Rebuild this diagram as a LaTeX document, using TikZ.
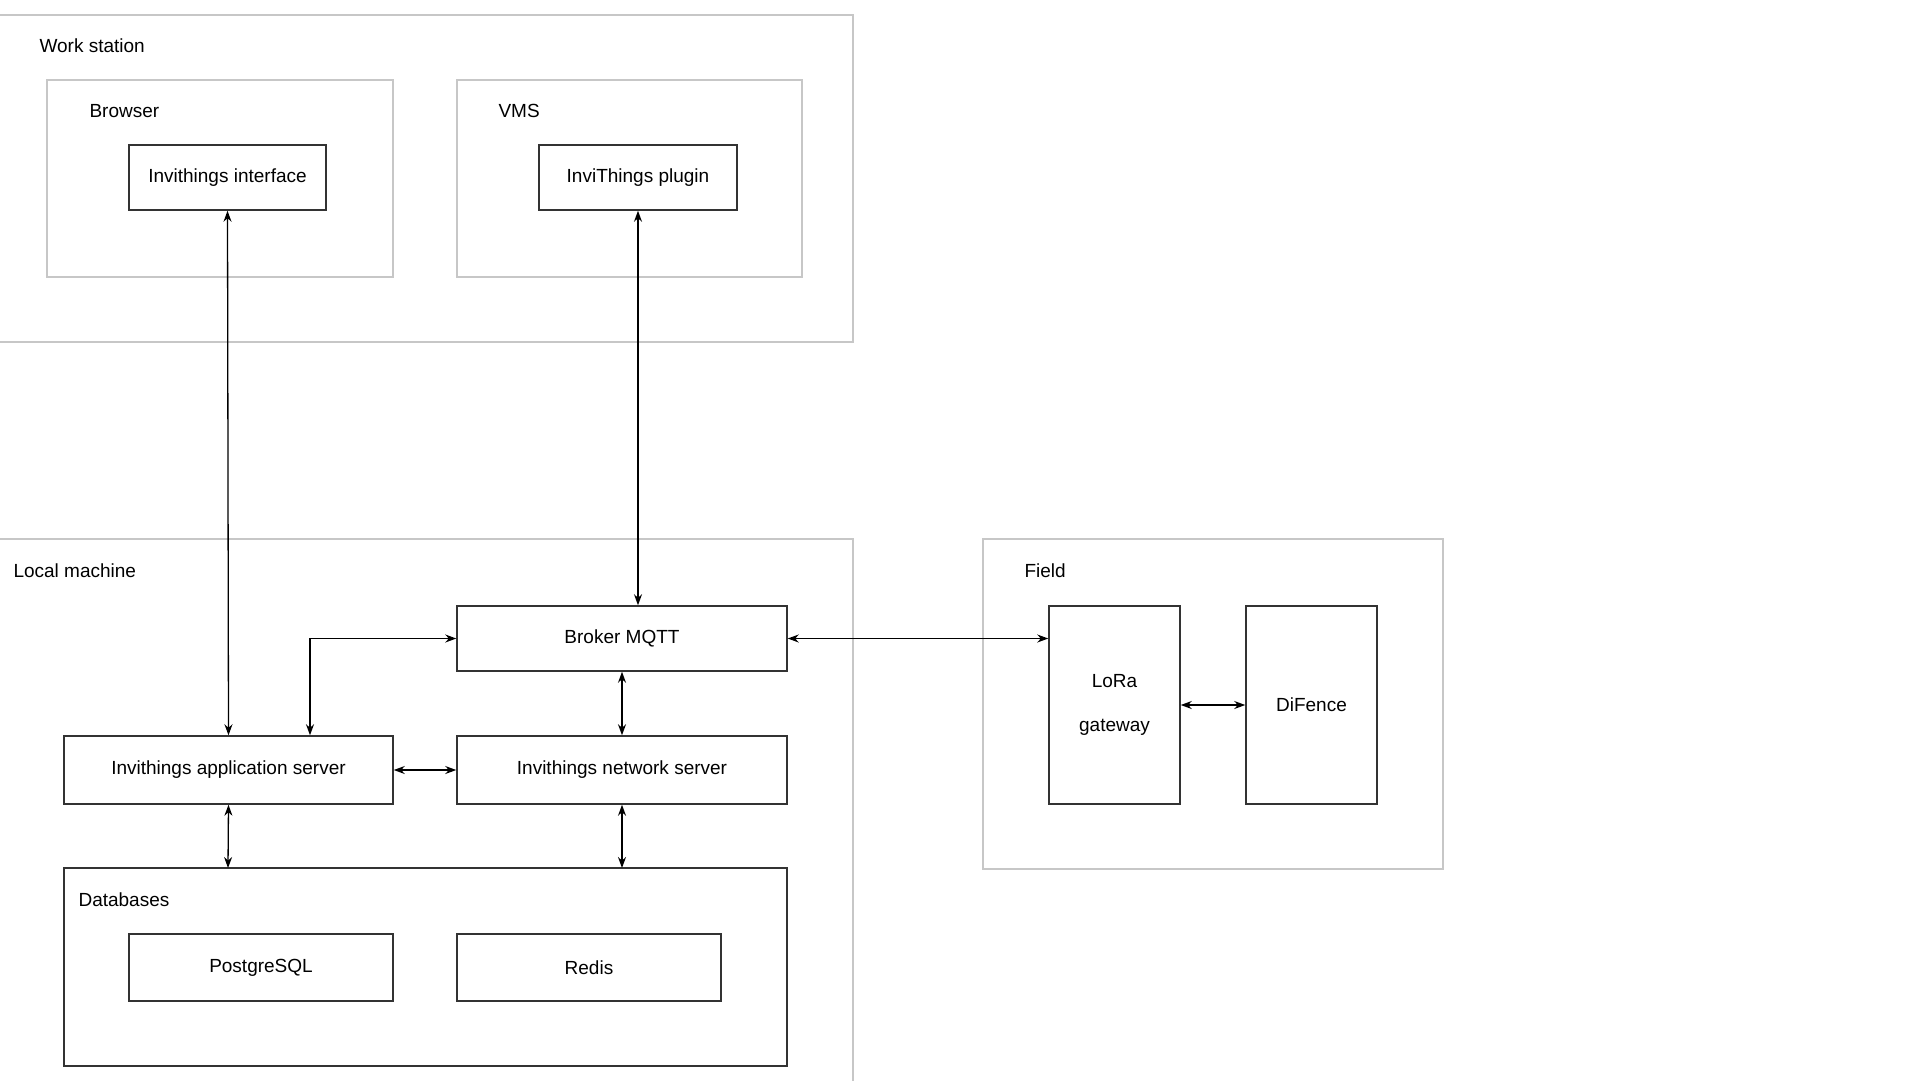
\documentclass[tikz,border=0pt]{standalone}
\usepackage{fontspec}
\setmainfont{Liberation Sans}
\usetikzlibrary{arrows.meta}
\begin{document}
\begin{tikzpicture}[x=1pt,y=-1pt,
  cont/.style={draw=black!22,line width=1.5pt},
  box/.style={draw=black!80,line width=1.5pt},
  lbl/.style={anchor=west,font=\fontsize{19}{22}\selectfont},
  txt/.style={font=\fontsize{19}{22}\selectfont},
  arr/.style={line width=1.3pt,{Stealth[length=11pt,width=8pt]}-{Stealth[length=11pt,width=8pt]}}]
\useasboundingbox (0,0) rectangle (1920,1080);
% containers
\draw[cont] (-2,15) rectangle (853,342);
\draw[cont] (47,80) rectangle (393,277);
\draw[cont] (457,80) rectangle (802,277);
\draw[cont] (-2,539) -- (853,539) -- (853,1085);
\draw[cont] (983,539) rectangle (1443,869);
\node[lbl] (ws) at (36,46) {Work station};
\node[lbl] (br) at (86,111) {Browser};
\node[lbl] (vms) at (495,111) {VMS};
\node[lbl] (lm) at (10,571) {Local machine};
\node[lbl] (fl) at (1021,571) {Field};
% boxes
\node[box,minimum width=197pt,minimum height=65pt,txt] (iface) at (227.5,177.5) {Invithings interface};
\node[box,minimum width=198pt,minimum height=65pt,txt] (plug) at (638,177.5) {InviThings plugin};
\node[box,minimum width=330pt,minimum height=65pt,txt] (mqtt) at (622,638.5) {Broker MQTT};
\node[box,minimum width=329pt,minimum height=68pt,txt] (app) at (228.5,770) {Invithings application server};
\node[box,minimum width=330pt,minimum height=68pt,txt] (net) at (622,770) {Invithings network server};
\draw[box] (64,868) rectangle (787,1066);
\node[lbl] (db) at (75,900) {Databases};
\node[box,minimum width=264pt,minimum height=67pt,txt] (pg) at (261,967.5) {PostgreSQL};
\node[box,minimum width=264pt,minimum height=67pt,txt] (redis) at (589,967.5) {Redis};
\node[box,minimum width=131pt,minimum height=198pt,txt,align=center] (lora) at (1114.5,705) {LoRa\\[22pt]gateway};
\node[box,minimum width=131pt,minimum height=198pt,txt] (dif) at (1311.5,705) {DiFence};
\coordinate (dbtop1) at (228,868);
\coordinate (dbtop2) at (622,868);
% connectors
\draw[arr] (iface.south) -- (app.north);
\draw[arr] (plug.south) -- (plug.south |- mqtt.north);
\draw[arr] (app.north -| 310,0) |- (mqtt.west);
\draw[arr] (mqtt.east) -- (lora.west |- mqtt.east);
\draw[arr] (mqtt.south) -- (net.north);
\draw[arr] (app.east) -- (net.west);
\draw[arr] (app.south) -- (dbtop1);
\draw[arr] (net.south) -- (dbtop2);
\draw[arr] (lora.east) -- (dif.west);
\end{tikzpicture}
\end{document}
